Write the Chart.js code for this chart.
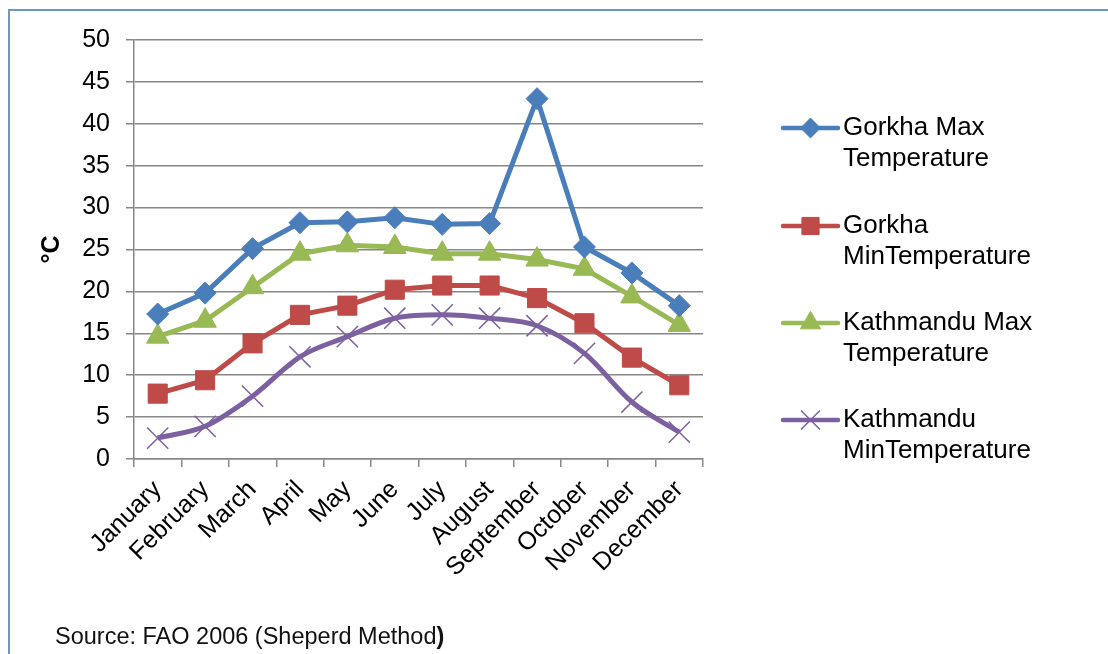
<!DOCTYPE html>
<html>
<head>
<meta charset="utf-8">
<script src="https://cdn.jsdelivr.net/npm/chart.js@4.4.0/dist/chart.umd.min.js"></script>
<style>
  html, body { margin: 0; padding: 0; background: #fff; }
  #wrap { position: relative; width: 1108px; height: 654px; overflow: hidden; font-family: "Liberation Sans", Arial, sans-serif; }
  #frame { position: absolute; left: 8px; top: 9px; width: 1200px; height: 700px; border: 2px solid #7096c9; box-sizing: border-box; }
  #chart { position: absolute; left: 0; top: 0; }
  #source { position: absolute; left: 55px; top: 623px; font-size: 23.5px; color: #111; }
</style>
</head>
<body>
<div id="wrap">
  <div id="frame"></div>
  <canvas id="chart" width="1108" height="654"></canvas>
  <div id="source">Source: FAO 2006 (Sheperd Method<b>)</b></div>
</div>
<script>
// chart data
const months = ["January", "February", "March", "April", "May", "June", "July", "August", "September", "October", "November", "December"];
const gorkhaMax = [17.3, 19.8, 25.1, 28.2, 28.3, 28.8, 28.0, 28.1, 43.0, 25.3, 22.2, 18.3];
const gorkhaMin = [7.8, 9.4, 13.8, 17.2, 18.3, 20.2, 20.7, 20.7, 19.2, 16.2, 12.1, 8.8];
const ktmMax = [14.6, 16.5, 20.5, 24.5, 25.5, 25.3, 24.5, 24.5, 23.8, 22.7, 19.4, 16.0];
const ktmMin = [2.5, 3.9, 7.5, 12.2, 14.6, 16.8, 17.2, 16.8, 15.9, 12.6, 6.8, 3.2];
const seriesNames = [
  ["Gorkha Max", "Temperature"],
  ["Gorkha", "MinTemperature"],
  ["Kathmandu Max", "Temperature"],
  ["Kathmandu", "MinTemperature"]
];
const yTicks = [0, 5, 10, 15, 20, 25, 30, 35, 40, 45, 50];

const FONT = "'Liberation Sans', Arial, sans-serif";
const gridGray = "#878787";

// right-hand legend, two lines per entry
const sideLegend = {
  id: "sideLegend",
  afterDraw(chart) {
    const ctx = chart.ctx;
    const x0 = 783, x1 = 838, tx = 843;
    const rows = [128, 226, 323, 420];
    ctx.save();
    chart.data.datasets.forEach((ds, i) => {
      const y = rows[i];
      ctx.strokeStyle = ds.borderColor;
      ctx.lineWidth = 4.5;
      ctx.lineCap = "round";
      ctx.beginPath();
      ctx.moveTo(x0, y);
      ctx.lineTo(x1, y);
      ctx.stroke();
      ctx.fillStyle = ds.pointBackgroundColor;
      ctx.strokeStyle = ds.pointBorderColor;
      ctx.lineWidth = ds.pointBorderWidth;
      ctx.lineCap = "butt";
      Chart.helpers.drawPoint(ctx, {
        pointStyle: ds.pointStyle,
        radius: ds.pointRadius * 0.9,
        borderWidth: ds.pointBorderWidth,
        rotation: 0
      }, (x0 + x1) / 2, y);
      ctx.fillStyle = "#000";
      ctx.font = "26px " + FONT;
      ctx.textBaseline = "middle";
      ctx.textAlign = "left";
      ds.legendLines.forEach((t, k) => ctx.fillText(t, tx, y + k * 31));
    });
    ctx.restore();
  }
};

new Chart(document.getElementById("chart").getContext("2d"), {
  type: "line",
  data: {
    labels: months,
    datasets: [
      { label: "Gorkha Max Temperature", legendLines: seriesNames[0], data: gorkhaMax,
        borderColor: "#4a7ebb", pointBackgroundColor: "#4a7ebb", pointBorderColor: "#4a7ebb",
        pointStyle: "rectRot", pointRadius: 11, pointBorderWidth: 1, borderWidth: 5, tension: 0 },
      { label: "Gorkha MinTemperature", legendLines: seriesNames[1], data: gorkhaMin,
        borderColor: "#be4b48", pointBackgroundColor: "#be4b48", pointBorderColor: "#be4b48",
        pointStyle: "rect", pointRadius: 13.5, pointBorderWidth: 1, borderWidth: 5, tension: 0 },
      { label: "Kathmandu Max Temperature", legendLines: seriesNames[2], data: ktmMax,
        borderColor: "#98b954", pointBackgroundColor: "#98b954", pointBorderColor: "#98b954",
        pointStyle: "triangle", pointRadius: 13, pointBorderWidth: 1, borderWidth: 5, tension: 0 },
      { label: "Kathmandu MinTemperature", legendLines: seriesNames[3], data: ktmMin,
        borderColor: "#7d60a0", pointBackgroundColor: "#7d60a0", pointBorderColor: "#7d60a0",
        pointStyle: "crossRot", pointRadius: 15, pointBorderWidth: 1.5, borderWidth: 5,
        cubicInterpolationMode: "monotone" }
    ]
  },
  options: {
    responsive: false,
    animation: false,
    layout: { padding: { left: 28, top: 40, right: 405, bottom: 0 } },
    plugins: { legend: { display: false }, tooltip: { enabled: false } },
    scales: {
      x: {
        offset: true,
        afterFit: (s) => { s.height = 195; },
        grid: { offset: true, drawOnChartArea: false, drawTicks: true, tickLength: 8, color: gridGray, lineWidth: 1.5 },
        border: { color: gridGray, width: 1.5 },
        ticks: { minRotation: 45, maxRotation: 45, color: "#000", padding: 8, font: { family: FONT, size: 25 } }
      },
      y: {
        min: 0, max: 50,
        afterFit: (s) => { s.width = 134 - 28; },
        afterBuildTicks: (s) => { s.ticks = yTicks.map(v => ({ value: v })); },
        title: { display: true, text: "°C", color: "#000", padding: { top: 9, bottom: 0 }, font: { family: FONT, size: 25, weight: "bold" } },
        grid: { color: gridGray, lineWidth: 1.5, tickLength: 8 },
        border: { color: gridGray, width: 1.5 },
        ticks: { color: "#000", padding: 16, font: { family: FONT, size: 25 } }
      }
    }
  },
  plugins: [sideLegend]
});
</script>
</body>
</html>
